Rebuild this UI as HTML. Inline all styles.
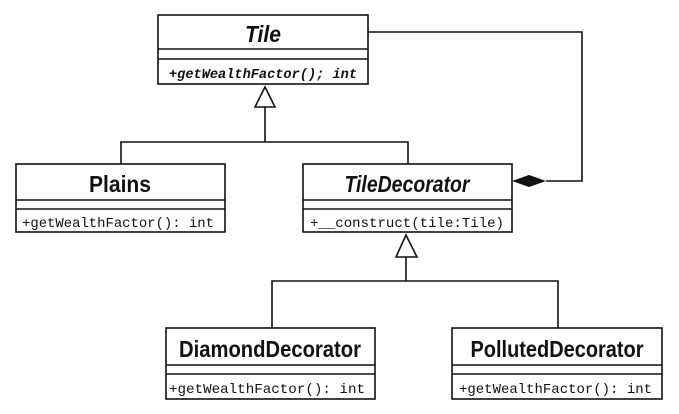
<!DOCTYPE html>
<html><head><style>body{margin:0;background:#fff}</style></head><body>
<svg width="679" height="409" viewBox="0 0 679 409" xmlns="http://www.w3.org/2000/svg" font-family="Liberation Sans, sans-serif">
<g fill="none" stroke="#111" stroke-width="1.6">
<rect x="158" y="15" width="210" height="69"/><line x1="158" y1="49" x2="368" y2="49"/><line x1="158" y1="59" x2="368" y2="59"/>
<rect x="16" y="164" width="209" height="68"/><line x1="16" y1="200" x2="225" y2="200"/><line x1="16" y1="209" x2="225" y2="209"/>
<rect x="303" y="164" width="209" height="68"/><line x1="303" y1="200" x2="512" y2="200"/><line x1="303" y1="209" x2="512" y2="209"/>
<rect x="166" y="328" width="209" height="71"/><line x1="166" y1="365" x2="375" y2="365"/><line x1="166" y1="374" x2="375" y2="374"/>
<rect x="452" y="328" width="210" height="71"/><line x1="452" y1="365" x2="662" y2="365"/><line x1="452" y1="374" x2="662" y2="374"/>
<polyline points="121,164 121,142 408,142 408,164"/><line x1="265" y1="142" x2="265" y2="107"/>
<polygon points="265,87 255,107 275,107" fill="#fff"/>
<polyline points="272,328 272,281 558,281 558,328"/><line x1="406" y1="281" x2="406" y2="257"/>
<polygon points="406,235 396,257 417,257" fill="#fff"/>
<polyline points="368,32 582,32 582,181 546,181"/>
</g>
<polygon points="512,181 529,175 546,181 529,187" fill="#111"/>
<g fill="#111" font-weight="bold" text-anchor="middle" font-size="23">
<text x="263" y="42" font-style="italic" textLength="36" lengthAdjust="spacingAndGlyphs">Tile</text>
<text x="120" y="192" textLength="62" lengthAdjust="spacingAndGlyphs">Plains</text>
<text x="407" y="192" font-style="italic" textLength="125" lengthAdjust="spacingAndGlyphs">TileDecorator</text>
<text x="270" y="357" textLength="182" lengthAdjust="spacingAndGlyphs">DiamondDecorator</text>
<text x="557" y="357" textLength="173" lengthAdjust="spacingAndGlyphs">PollutedDecorator</text>
</g>
<g fill="#111" font-family="Liberation Mono, monospace" font-size="14">
<text x="169" y="78" font-weight="bold" font-style="italic" textLength="188" lengthAdjust="spacingAndGlyphs">+getWealthFactor(); int</text>
<text x="22" y="227" textLength="192" lengthAdjust="spacingAndGlyphs">+getWealthFactor(): int</text>
<text x="310" y="227" textLength="194" lengthAdjust="spacingAndGlyphs">+__construct(tile:Tile)</text>
<text x="169" y="393" textLength="196" lengthAdjust="spacingAndGlyphs">+getWealthFactor(): int</text>
<text x="459" y="393" textLength="193" lengthAdjust="spacingAndGlyphs">+getWealthFactor(): int</text>
</g>
</svg>
</body></html>
